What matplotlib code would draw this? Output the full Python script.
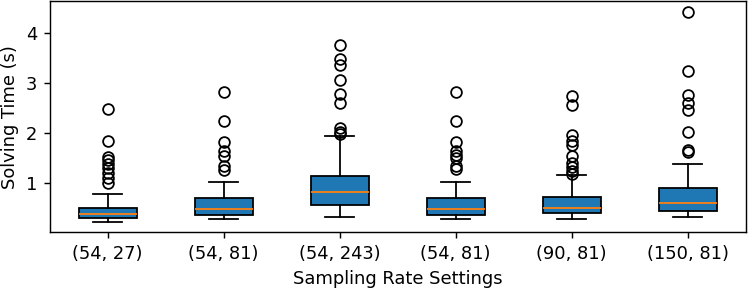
import matplotlib
matplotlib.use("Agg")
import matplotlib.pyplot as plt

categories = ["(54, 27)", "(54, 81)", "(54, 243)", "(54, 81)", "(90, 81)", "(150, 81)"]
medians = [0.38, 0.48, 0.82, 0.48, 0.50, 0.59]
q1 = [0.29, 0.36, 0.56, 0.36, 0.39, 0.43]
q3 = [0.50, 0.69, 1.14, 0.69, 0.71, 0.89]
whislo = [0.22, 0.27, 0.32, 0.27, 0.27, 0.31]
whishi = [0.77, 1.02, 1.94, 1.02, 1.15, 1.38]
fliers = [
    [2.47, 1.83, 1.52, 1.46, 1.38, 1.30, 1.20, 1.10, 1.00],
    [2.81, 2.23, 1.81, 1.63, 1.53, 1.34, 1.26],
    [3.75, 3.47, 3.35, 3.05, 2.78, 2.59, 2.09, 2.01, 1.98],
    [2.81, 2.23, 1.81, 1.63, 1.55, 1.50, 1.34, 1.28],
    [2.73, 2.56, 1.95, 1.83, 1.76, 1.54, 1.39, 1.31, 1.23, 1.18],
    [4.43, 3.24, 2.75, 2.59, 2.45, 2.01, 1.65, 1.61],
]

stats = []
for i, lab in enumerate(categories):
    stats.append(dict(label=lab, med=medians[i], q1=q1[i], q3=q3[i],
                      whislo=whislo[i], whishi=whishi[i], fliers=fliers[i]))

fig = plt.figure(figsize=(748 / 129, 289 / 129), dpi=129)
ax = fig.add_axes([0.0663, 0.196, 0.9307, 0.8005])
ax.bxp(stats, patch_artist=True)
ax.set_xlabel("Sampling Rate Settings")
ax.set_ylabel("Solving Time (s)")
fig.savefig("out.png", dpi=129)
